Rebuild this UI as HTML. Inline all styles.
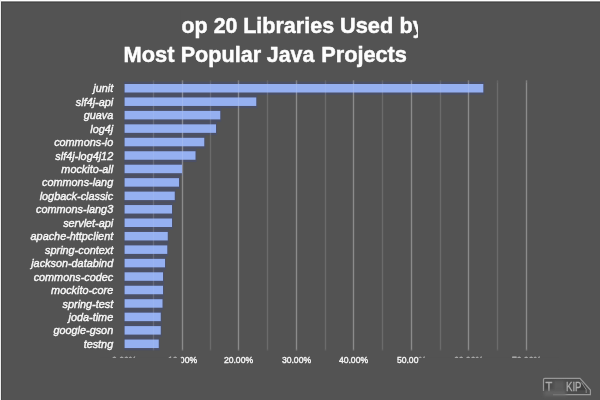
<!DOCTYPE html>
<html lang="en">
<head>
<meta charset="utf-8">
<title>Top 20 Libraries Used by Most Popular Java Projects</title>
<style>
html,body{margin:0;padding:0;background:#535353;}
body{width:600px;height:400px;overflow:hidden;position:relative;font-family:"Liberation Sans",sans-serif;}
svg{position:absolute;left:0;top:0;display:block;}
.t{font-weight:bold;font-size:22.6px;fill:#fdfdfd;stroke:#fdfdfd;stroke-width:0.5px;}
.yl{font-style:italic;font-size:10.85px;fill:#f8f8f8;text-anchor:end;stroke:#f8f8f8;stroke-width:0.42px;}
.xl{font-size:8.6px;fill:#f4f4f4;text-anchor:middle;stroke:#f4f4f4;stroke-width:0.4px;}
.wm{font-size:13px;fill:#adadad;stroke:#adadad;stroke-width:0.3px;font-weight:normal;}
</style>
</head>
<body>
<svg width="600" height="400" viewBox="0 0 600 400">
<rect x="0" y="0" width="600" height="400" fill="#535353"/>
<g>
<rect x="-10" y="-10" width="620" height="420" fill="#535353"/>

<g fill="#4b5067">
<rect x="124.10" y="81.70" width="360.20" height="13.10"/>
<rect x="124.10" y="95.15" width="133.15" height="13.10"/>
<rect x="124.10" y="108.60" width="97.15" height="13.10"/>
<rect x="124.10" y="122.05" width="92.90" height="13.10"/>
<rect x="124.10" y="135.50" width="81.15" height="13.10"/>
<rect x="124.10" y="148.95" width="72.40" height="13.10"/>
<rect x="124.10" y="162.40" width="58.90" height="13.10"/>
<rect x="124.10" y="175.85" width="55.90" height="13.10"/>
<rect x="124.10" y="189.30" width="51.65" height="13.10"/>
<rect x="124.10" y="202.75" width="48.90" height="13.10"/>
<rect x="124.10" y="216.20" width="48.90" height="13.10"/>
<rect x="124.10" y="229.65" width="44.65" height="13.10"/>
<rect x="124.10" y="243.10" width="44.15" height="13.10"/>
<rect x="124.10" y="256.55" width="41.90" height="13.10"/>
<rect x="124.10" y="270.00" width="39.90" height="13.10"/>
<rect x="124.10" y="283.45" width="39.90" height="13.10"/>
<rect x="124.10" y="296.90" width="39.40" height="13.10"/>
<rect x="124.10" y="310.35" width="37.65" height="13.10"/>
<rect x="124.10" y="323.80" width="37.65" height="13.10"/>
<rect x="124.10" y="337.25" width="35.65" height="13.10"/>
</g>
<g fill="#ffffff">
<rect x="152.75" y="80.3" width="1.5" height="270.2" fill-opacity="0.10"/>
<rect x="181.75" y="80.3" width="1.5" height="270.2" fill-opacity="0.25"/>
<rect x="209.75" y="80.3" width="1.5" height="270.2" fill-opacity="0.10"/>
<rect x="237.75" y="80.3" width="1.5" height="270.2" fill-opacity="0.25"/>
<rect x="266.75" y="80.3" width="1.5" height="270.2" fill-opacity="0.10"/>
<rect x="295.75" y="80.3" width="1.5" height="270.2" fill-opacity="0.25"/>
<rect x="324.75" y="80.3" width="1.5" height="270.2" fill-opacity="0.10"/>
<rect x="352.75" y="80.3" width="1.5" height="270.2" fill-opacity="0.25"/>
<rect x="381.75" y="80.3" width="1.5" height="270.2" fill-opacity="0.10"/>
<rect x="410.75" y="80.3" width="1.5" height="270.2" fill-opacity="0.25"/>
<rect x="439.75" y="80.3" width="1.5" height="270.2" fill-opacity="0.10"/>
<rect x="467.75" y="80.3" width="1.5" height="270.2" fill-opacity="0.25"/>
<rect x="496.75" y="80.3" width="1.5" height="270.2" fill-opacity="0.10"/>
<rect x="525.75" y="80.3" width="1.5" height="270.2" fill-opacity="0.25"/>
</g>
<g fill="#95b0f1">
<rect x="124.60" y="84.00" width="358.70" height="8.50"/>
<rect x="124.60" y="97.45" width="131.65" height="8.50"/>
<rect x="124.60" y="110.90" width="95.65" height="8.50"/>
<rect x="124.60" y="124.35" width="91.40" height="8.50"/>
<rect x="124.60" y="137.80" width="79.65" height="8.50"/>
<rect x="124.60" y="151.25" width="70.90" height="8.50"/>
<rect x="124.60" y="164.70" width="57.40" height="8.50"/>
<rect x="124.60" y="178.15" width="54.40" height="8.50"/>
<rect x="124.60" y="191.60" width="50.15" height="8.50"/>
<rect x="124.60" y="205.05" width="47.40" height="8.50"/>
<rect x="124.60" y="218.50" width="47.40" height="8.50"/>
<rect x="124.60" y="231.95" width="43.15" height="8.50"/>
<rect x="124.60" y="245.40" width="42.65" height="8.50"/>
<rect x="124.60" y="258.85" width="40.40" height="8.50"/>
<rect x="124.60" y="272.30" width="38.40" height="8.50"/>
<rect x="124.60" y="285.75" width="38.40" height="8.50"/>
<rect x="124.60" y="299.20" width="37.90" height="8.50"/>
<rect x="124.60" y="312.65" width="36.15" height="8.50"/>
<rect x="124.60" y="326.10" width="36.15" height="8.50"/>
<rect x="124.60" y="339.55" width="34.15" height="8.50"/>
</g>
<g fill="#ffffff">
<rect x="153.00" y="83" width="1" height="266" fill-opacity="0.05"/>
<rect x="182.00" y="83" width="1" height="266" fill-opacity="0.10"/>
<rect x="210.00" y="83" width="1" height="266" fill-opacity="0.05"/>
<rect x="238.00" y="83" width="1" height="266" fill-opacity="0.10"/>
<rect x="267.00" y="83" width="1" height="266" fill-opacity="0.05"/>
<rect x="296.00" y="83" width="1" height="266" fill-opacity="0.10"/>
<rect x="325.00" y="83" width="1" height="266" fill-opacity="0.05"/>
<rect x="353.00" y="83" width="1" height="266" fill-opacity="0.10"/>
<rect x="382.00" y="83" width="1" height="266" fill-opacity="0.05"/>
<rect x="411.00" y="83" width="1" height="266" fill-opacity="0.10"/>
<rect x="440.00" y="83" width="1" height="266" fill-opacity="0.05"/>
<rect x="468.00" y="83" width="1" height="266" fill-opacity="0.10"/>
<rect x="497.00" y="83" width="1" height="266" fill-opacity="0.05"/>
<rect x="526.00" y="83" width="1" height="266" fill-opacity="0.10"/>
</g>
<g class="yl">
<text x="113.2" y="92.30">junit</text>
<text x="113.2" y="105.75">slf4j-api</text>
<text x="113.2" y="119.20">guava</text>
<text x="113.2" y="132.65">log4j</text>
<text x="113.2" y="146.10">commons-io</text>
<text x="113.2" y="159.55">slf4j-log4j12</text>
<text x="113.2" y="173.00">mockito-all</text>
<text x="113.2" y="186.45">commons-lang</text>
<text x="113.2" y="199.90">logback-classic</text>
<text x="113.2" y="213.35">commons-lang3</text>
<text x="113.2" y="226.80">servlet-api</text>
<text x="113.2" y="240.25">apache-httpclient</text>
<text x="113.2" y="253.70">spring-context</text>
<text x="113.2" y="267.15">jackson-databind</text>
<text x="113.2" y="280.60">commons-codec</text>
<text x="113.2" y="294.05">mockito-core</text>
<text x="113.2" y="307.50">spring-test</text>
<text x="113.2" y="320.95">joda-time</text>
<text x="113.2" y="334.40">google-gson</text>
<text x="113.2" y="347.85">testng</text>
</g>
<g class="xl">
<text x="124.30" y="363.3">0.00%</text>
<text x="182.50" y="363.3">10.00%</text>
<text x="238.50" y="363.3">20.00%</text>
<text x="296.50" y="363.3">30.00%</text>
<text x="353.50" y="363.3">40.00%</text>
<text x="411.50" y="363.3">50.00%</text>
<text x="468.50" y="363.3">60.00%</text>
<text x="526.50" y="363.3">70.00%</text>
</g>
<g fill="#535353">
<rect x="100" y="357.55" width="81.3" height="12"/>
<rect x="418.6" y="357.55" width="140" height="12"/>
</g>
<text class="t" y="33.1"><tspan x="165">T</tspan><tspan x="181.38" textLength="26.09" lengthAdjust="spacingAndGlyphs">op</tspan> <tspan x="213.63" textLength="23.76" lengthAdjust="spacingAndGlyphs">20</tspan> <tspan x="243.17" textLength="90.96" lengthAdjust="spacingAndGlyphs">Libraries</tspan> <tspan x="339.96" textLength="53.25" lengthAdjust="spacingAndGlyphs">Used</tspan> <tspan x="399.50" textLength="25.20" lengthAdjust="spacingAndGlyphs">by</tspan></text>
<text class="t" y="61.5"><tspan x="123.60" textLength="50.94" lengthAdjust="spacingAndGlyphs">Most</tspan> <tspan x="180.70" textLength="80.43" lengthAdjust="spacingAndGlyphs">Popular</tspan> <tspan x="266.80" textLength="47.51" lengthAdjust="spacingAndGlyphs">Java</tspan> <tspan x="321.23" textLength="85.65" lengthAdjust="spacingAndGlyphs">Projects</tspan></text>
<g fill="#535353">
<rect x="160" y="10" width="20.5" height="30"/>
<rect x="418" y="10" width="30" height="32"/>
</g>
<defs><filter id="b2" x="-30%" y="-60%" width="160%" height="220%"><feGaussianBlur stdDeviation="1.5"/></filter></defs>
<g>
<path d="M543.6 378.4 H580 L590.4 390 V394.6 H545 Z" fill="#4c4c4c"/>
<rect x="544.6" y="383" width="4" height="8.2" fill="#424242"/>
<rect x="577.6" y="384.6" width="8" height="5.6" fill="#3e3e3e"/>
<g fill="none" stroke="#a0a0a0" stroke-width="1.2" stroke-opacity="0.9">
<path d="M543.5 391 V379.6 Q543.5 378.3 544.8 378.3 H580 L590.4 390 V394.7 H553"/>
<path d="M581.6 382.4 L586.2 389.6 V393" stroke="#909090" stroke-width="1"/>
</g>
<text class="wm" transform="translate(545.6 391.2) scale(0.86 1)">T</text>
<text class="wm" transform="translate(566 391.2) scale(0.74 1)">KIP</text>
</g>
<rect x="544" y="390" width="22" height="6" fill="#666666" fill-opacity="0.85" filter="url(#b2)"/>
<rect x="553.5" y="381" width="11" height="9" fill="#5c5c5c" fill-opacity="0.9" filter="url(#b2)"/>

</g>
<rect x="1" y="2" width="599" height="1" fill="#474747"/>
<rect x="1" y="2" width="1" height="398" fill="#484848"/>
<rect x="0" y="1" width="600" height="1" fill="#8c8c8c"/>
<rect x="0" y="0" width="600" height="1" fill="#ffffff"/>
<rect x="0" y="0" width="1" height="400" fill="#ededed"/>
</svg>
</body>
</html>
